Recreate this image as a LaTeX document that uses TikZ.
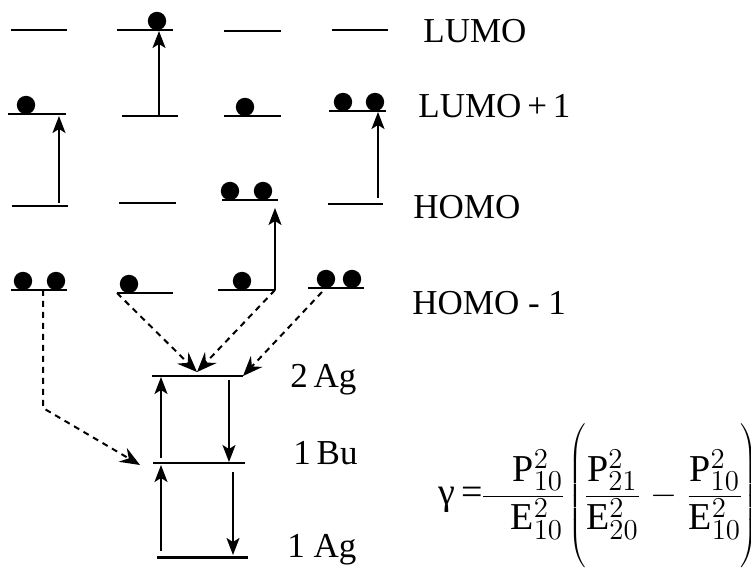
\documentclass[tikz,border=0pt]{standalone}
\usepackage{fontspec}
\setmainfont{Liberation Serif}
\usetikzlibrary{arrows.meta}

\begin{document}
\begin{tikzpicture}[x=0.5pt, y=-0.5pt,
  orbital/.style={line width=1pt},
  elec/.style={fill=black},
  excite/.style={line width=0.9pt, -{Stealth[length=8.5pt,width=6.5pt,inset=2pt]}},
  mixing/.style={line width=1pt, dash pattern=on 3pt off 2.5pt,
                 -{Stealth[length=10pt,width=8pt,inset=3.5pt]}},
  lbl/.style={font=\fontsize{17.5}{20}\selectfont, anchor=base west, inner sep=0pt}]

\useasboundingbox (0,0) rectangle (751,572);

% LUMO row
\draw[orbital] (11,30) -- (67,30);
\draw[orbital] (117,30) -- (173,30);
\draw[orbital] (224,31) -- (281,31);
\draw[orbital] (332,30) -- (388,30);
% LUMO+1 row
\draw[orbital] (8,114) -- (66,114);
\draw[orbital] (122,116) -- (178,116);
\draw[orbital] (224,116) -- (281,116);
\draw[orbital] (329,111) -- (386,111);
% HOMO row
\draw[orbital] (12,206) -- (68,206);
\draw[orbital] (119,203) -- (176,203);
\draw[orbital] (222,200) -- (278,200);
\draw[orbital] (328,204) -- (383,204);
% HOMO-1 row
\draw[orbital] (11,290) -- (67,290);
\draw[orbital] (117,293) coordinate (hb2w) -- (173,293);
\draw[orbital] (218,290) -- (275,290) coordinate (hb3e);
\draw[orbital] (308,288) -- (364,288);

% States
\draw[line width=1pt] (152,376) coordinate (s2w) -- (243,376) coordinate (s2e);
\draw[line width=1pt] (153,463) coordinate (s1w) -- (245,463);
\draw[line width=1.5pt] (157,558) -- (248,558);

% Electrons
\fill[elec] (157,21) circle[radius=4.6pt];
\fill[elec] (26,105) circle[radius=4.6pt];
\fill[elec] (245,107) circle[radius=4.6pt];
\fill[elec] (343,102) circle[radius=4.6pt];
\fill[elec] (375,102) circle[radius=4.6pt];
\fill[elec] (230,191) circle[radius=4.6pt];
\fill[elec] (263,191) circle[radius=4.6pt];
\fill[elec] (23,281) circle[radius=4.6pt];
\fill[elec] (56,281) circle[radius=4.6pt];
\fill[elec] (129,284) circle[radius=4.6pt];
\fill[elec] (242,281) circle[radius=4.6pt];
\fill[elec] (326,279) circle[radius=4.6pt];
\fill[elec] (352,279) circle[radius=4.6pt];

% Excitation end points
\coordinate (a1s) at (59,203);  \coordinate (a1e) at (59,116);
\coordinate (a2s) at (159,116); \coordinate (a2e) at (159,31);
\coordinate (a4s) at (378,198); \coordinate (a4e) at (378,112);
\coordinate (a3e) at (275,208);
\coordinate (d1s) at (43,290);  \coordinate (d1k) at (43,408);
\coordinate (d1e) at (140,465);
\coordinate (d4s) at (322,292); \coordinate (mid2) at (197,372);

\draw[excite] (a1s) -- (a1e);
\draw[excite] (a2s) -- (a2e);
\draw[excite] (hb3e) -- (a3e);
\draw[excite] (a4s) -- (a4e);

% Configuration mixing
\draw[mixing] (d1s) -- (d1k) -- (d1e);
\draw[mixing] (hb2w) -- (mid2);
\draw[mixing] (hb3e) -- (mid2);
\draw[mixing] (d4s) -- (s2e);

% State transitions
\coordinate (t1s) at (161,458); \coordinate (t1e) at (161,377);
\coordinate (t2s) at (229,380); \coordinate (t2e) at (229,462);
\coordinate (t3s) at (161,551); \coordinate (t3e) at (161,465);
\coordinate (t4s) at (233,472); \coordinate (t4e) at (233,555);
\draw[excite] (t1s) -- (t1e);
\draw[excite] (t2s) -- (t2e);
\draw[excite] (t3s) -- (t3e);
\draw[excite] (t4s) -- (t4e);

% Labels
\node[lbl] (lumo)  at (423,43)  {LUMO};
\node[lbl] (lumo1) at (418,118) {LUMO\,+\,1};
\node[lbl] (homo)  at (413,219) {HOMO};
\node[lbl] (homo1) at (412,315) {HOMO - 1};
\node[lbl] (ag2)   at (290,388) {2\,Ag};
\node[lbl] (bu1)   at (293,465) {1\,Bu};
\node[lbl] (ag1)   at (287,558) {1 Ag};

% Formula
\node[anchor=west, inner sep=0pt, font=\fontsize{19}{22}\selectfont] (gam) at (438,496)
  {\nulldelimiterspace=0pt
   $\displaystyle\mbox{γ}\mbox{\,=}\frac{\makebox[40pt][r]{$\mathrm{P}^2_{10}$}}{\makebox[40pt][r]{$\mathrm{E}^2_{10}$}}
   \left(\rule[-30pt]{0pt}{70pt}\frac{\mathrm{P}^2_{21}}{\mathrm{E}^2_{20}}
   \mkern6mu{-}\mkern6mu\frac{\mathrm{P}^2_{10}}{\mathrm{E}^2_{10}}\right)$};

\end{tikzpicture}
\end{document}
